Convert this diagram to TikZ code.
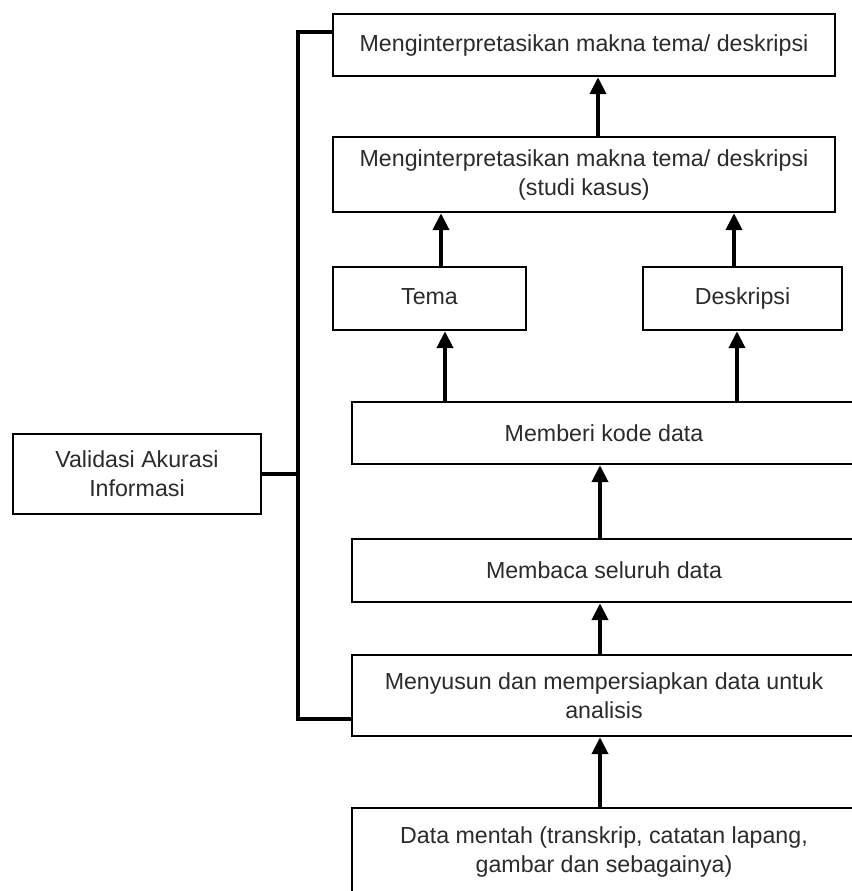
\documentclass[tikz,border=0pt]{standalone}
\usepackage{fontspec}
\setmainfont{Liberation Sans}
\usetikzlibrary{arrows.meta}
\definecolor{txtgray}{rgb}{0.17,0.17,0.17}
\tikzset{
  box/.style={draw=black, line width=1.2pt, inner sep=0pt, align=center,
    text=txtgray, font=\fontsize{11.6}{14.5}\selectfont},
  arr/.style={-{Triangle[width=8pt,length=8.5pt]}, line width=2pt},
  brk/.style={line width=2pt, line join=miter}
}
\begin{document}
\begin{tikzpicture}[x=0.5pt,y=-0.5pt]
      \useasboundingbox (0,0) rectangle (852,891);
      \draw
        (584,45) node[box, minimum width=251pt, minimum height=31pt] (interp){Menginterpretasikan makna tema/ deskripsi}
        (584,174.5) node[box, minimum width=251pt, minimum height=37.5pt] (studi){Menginterpretasikan makna tema/ deskripsi\\(studi kasus)}
        (429.5,298.5) node[box, minimum width=96.5pt, minimum height=31.5pt] (tema){\strut Tema}
        (742.5,298.5) node[box, minimum width=99.5pt, minimum height=31.5pt] (deskripsi){\strut Deskripsi}
        (604,433) node[box, minimum width=252pt, minimum height=31pt] (kode){Memberi kode data}
        (604,570.5) node[box, minimum width=252pt, minimum height=31.5pt] (baca){Membaca seluruh data}
        (604,695.5) node[box, minimum width=252pt, minimum height=40.5pt] (susun){Menyusun dan mempersiapkan data untuk\\analisis}
        (604,852) node[box, minimum width=252pt, minimum height=44pt] (mentah){Data mentah (transkrip, catatan lapang,\\gambar dan sebagainya)}
        (137,474) node[box, minimum width=124pt, minimum height=40pt] (validasi){Validasi Akurasi\\Informasi};
      \begin{scope}[arr]
        \draw (studi.north -| 598,0) to (interp.south -| 598,0);
        \draw (tema.north -| 441,0) to (studi.south -| 441,0);
        \draw (deskripsi.north -| 734,0) to (studi.south -| 734,0);
        \draw (kode.north -| 445,0) to (tema.south -| 445,0);
        \draw (kode.north -| 737,0) to (deskripsi.south -| 737,0);
        \draw (baca.north -| 600,0) to (kode.south -| 600,0);
        \draw (susun.north -| 600,0) to (baca.south -| 600,0);
        \draw (mentah.north -| 600,0) to (susun.south -| 600,0);
      \end{scope}
      \begin{scope}[brk]
        \draw (interp.west |- 0,32) -- (298,32) -- (298,719) -- (susun.west |- 0,719);
        \draw (validasi.east) -- (validasi.east -| 298,0);
      \end{scope}
    \end{tikzpicture}
\end{document}
